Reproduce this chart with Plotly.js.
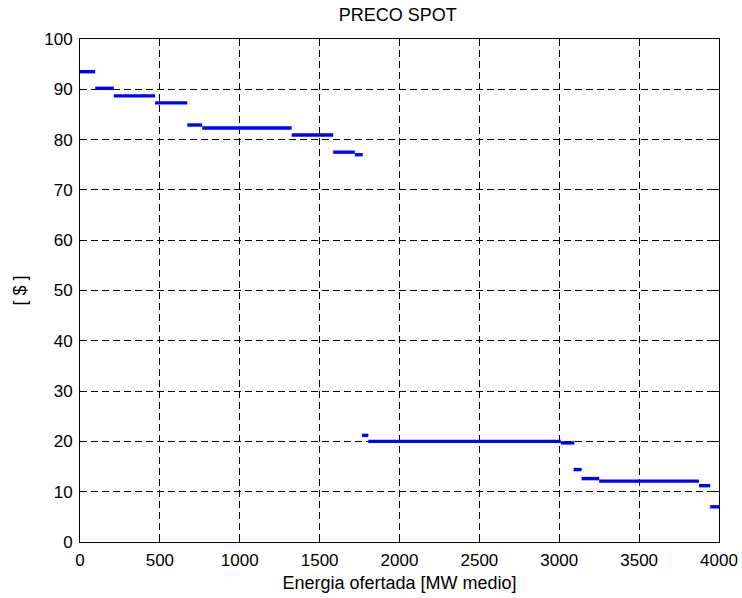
<!DOCTYPE html>
<html>
<head>
<meta charset="utf-8">
<script src="https://cdn.plot.ly/plotly-3.0.1.min.js"></script>
<style>html,body{margin:0;padding:0;background:#fff;}#chart{width:742px;height:598px;}</style>
</head>
<body>
<div id="chart"></div>
<script>
// Step segments of the offer curve: start, end (MW medio) and price ($)
const segStart = [0, 95, 212, 470, 672, 765, 1325, 1585, 1720, 1765, 1805, 3010, 3090, 3140, 3250, 3875, 3945];
const segEnd   = [95, 212, 470, 672, 765, 1325, 1585, 1720, 1770, 1805, 3010, 3095, 3140, 3250, 3875, 3945, 4000];
const segPrice = [93.5, 90.2, 88.7, 87.3, 82.9, 82.3, 80.9, 77.5, 77.0, 21.2, 20.0, 19.7, 14.4, 12.6, 12.1, 11.2, 7.0];

const xTicks = [0, 500, 1000, 1500, 2000, 2500, 3000, 3500, 4000];
const yTicks = [0, 10, 20, 30, 40, 50, 60, 70, 80, 90, 100];

const xs = [], ys = [];
for (let i = 0; i < segPrice.length; i++) {
  xs.push(segStart[i], segEnd[i], null);
  ys.push(segPrice[i], segPrice[i], null);
}

const fam = 'Liberation Sans, Arial, sans-serif';
const tickFont = {family: fam, size: 17, color: '#000'};
const titleFont = {family: fam, size: 18, color: '#000'};

const axisCommon = {
  showline: true, mirror: 'ticks', linecolor: '#000', linewidth: 1,
  ticks: 'inside', ticklen: 5, tickcolor: '#000',
  showgrid: true, gridcolor: '#000', gridwidth: 1, griddash: '7px,4px',
  zeroline: false, tickfont: tickFont
};

Plotly.newPlot('chart', [{
  x: xs, y: ys, type: 'scatter', mode: 'lines',
  line: {color: '#0000ff', width: 3.4},
  connectgaps: false, hoverinfo: 'skip'
}], {
  width: 742, height: 598,
  margin: {l: 80, r: 23, t: 39, b: 56},
  paper_bgcolor: '#fff', plot_bgcolor: '#fff',
  showlegend: false,
  font: titleFont,
  title: {text: 'PRECO SPOT', font: titleFont, x: 0.536, xanchor: 'center', y: 0.976, yanchor: 'middle'},
  xaxis: Object.assign({}, axisCommon, {
    range: [0, 4000], tickvals: xTicks, ticktext: xTicks.map(String),
    ticklabelstandoff: 3,
    title: {text: 'Energia ofertada [MW medio]', font: titleFont, standoff: 6}
  }),
  yaxis: Object.assign({}, axisCommon, {
    range: [0, 100], tickvals: yTicks, ticktext: yTicks.map(String),
    ticklabelstandoff: 3,
    title: {text: '[ $ ]', font: titleFont, standoff: 12}
  })
}, {displayModeBar: false, staticPlot: true});
</script>
</body>
</html>
